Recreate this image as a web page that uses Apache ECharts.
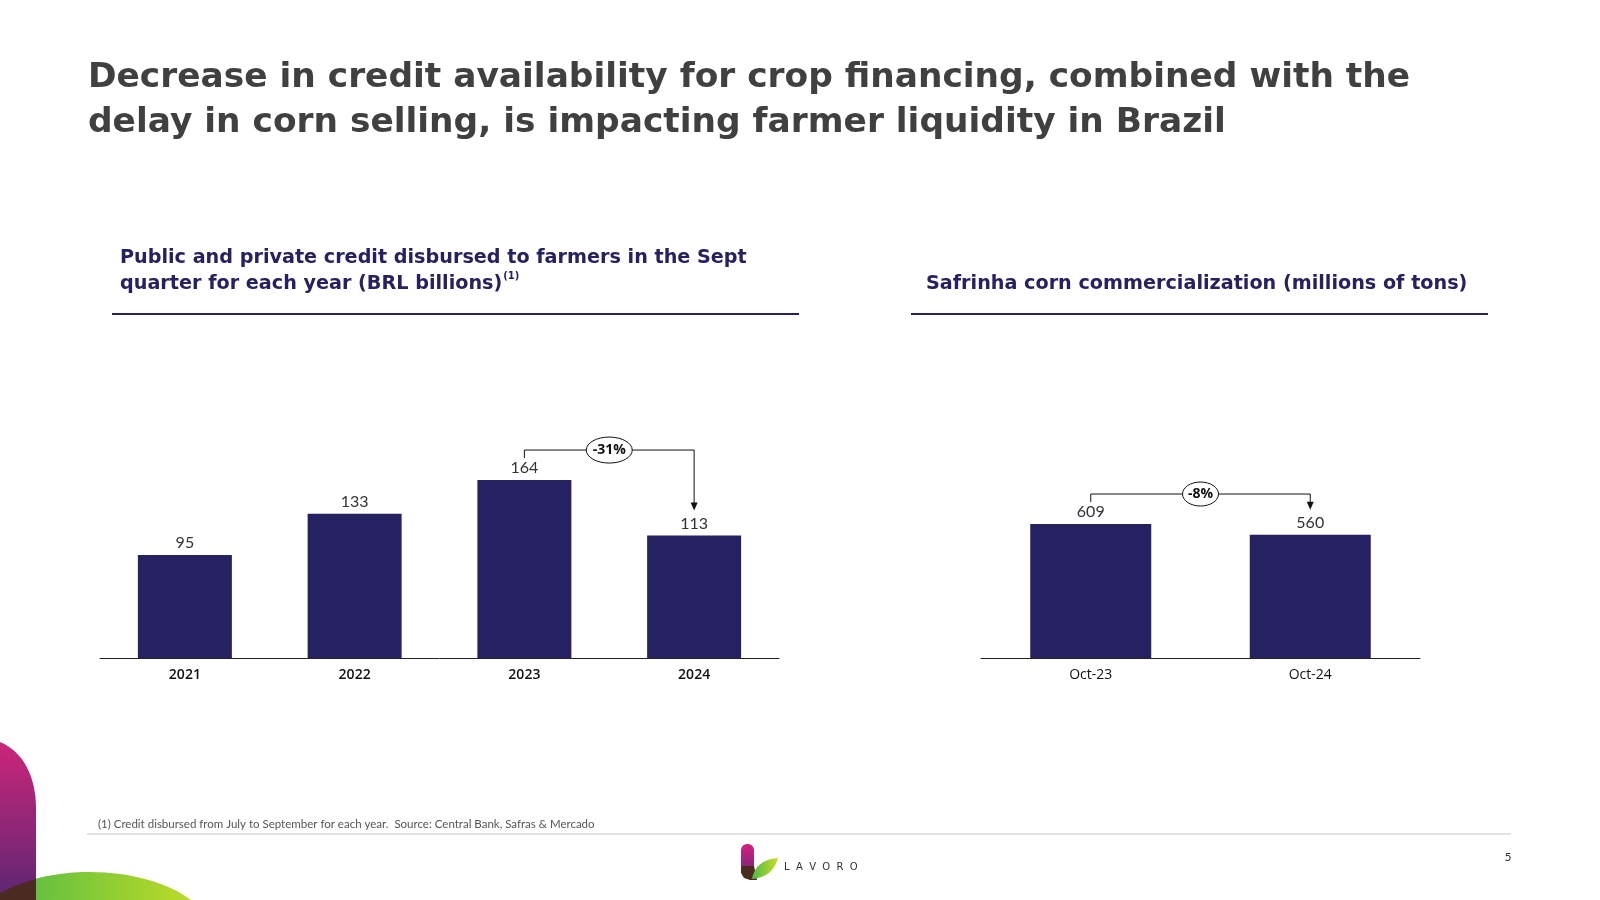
<!DOCTYPE html>
<html>
<head>
<meta charset="utf-8">
<title>Lavoro - credit and corn</title>
<script src="https://cdn.jsdelivr.net/npm/echarts@6/dist/echarts.min.js"></script>
<style>
  html, body { margin: 0; padding: 0; background: #fff; }
  #main { width: 1600px; height: 900px; }
</style>
</head>
<body>
<div id="main"></div>
<script>
// 左图：季度信贷（十亿雷亚尔）
const creditYears = ['2021', '2022', '2023', '2024']
const creditValues = [95, 133, 164, 113]
// 右图：玉米销售（百万吨）
const cornMonths = ['Oct-23', 'Oct-24']
const cornValues = [609, 560]

const navy = '#262160'
const valueFont = 'Lato, "Open Sans", sans-serif'
const headFont = '"DejaVu Sans", sans-serif'

const chartInstance = echarts.init(document.getElementById('main'), null, { renderer: 'canvas' })

const initOption = {
  backgroundColor: '#fff',
  animation: false,
  title: [
    {
      text: 'Decrease in credit availability for crop financing, combined with the\ndelay in corn selling, is impacting farmer liquidity in Brazil',
      left: 88,
      top: 56,
      padding: 0,
      textStyle: { fontFamily: headFont, fontSize: 34.4, fontWeight: 'bold', color: '#404040', lineHeight: 45 }
    },
    {
      text: 'Public and private credit disbursed to farmers in the Sept\nquarter for each year (BRL billions){sup|(1)}',
      left: 120,
      top: 245,
      padding: 0,
      textStyle: {
        fontFamily: headFont, fontSize: 19.2, fontWeight: 'bold', color: navy, lineHeight: 26,
        rich: {
          sup: { fontFamily: headFont, fontSize: 10, fontWeight: 'bold', color: navy, verticalAlign: 'top', padding: [0, 0, 8, 1] }
        }
      }
    },
    {
      text: 'Safrinha corn commercialization (millions of tons)',
      left: 926,
      top: 271,
      padding: 0,
      textStyle: { fontFamily: headFont, fontSize: 19.2, fontWeight: 'bold', color: navy, lineHeight: 26 }
    }
  ],
  grid: [
    { left: 100, right: 821, top: 441, bottom: 242 },
    { left: 981, right: 180, top: 482, bottom: 242 }
  ],
  xAxis: [
    {
      gridIndex: 0,
      type: 'category',
      data: creditYears,
      axisLine: { lineStyle: { color: '#222', width: 1 } },
      axisTick: { show: false },
      axisLabel: { margin: 10, fontFamily: '"Open Sans", sans-serif', fontSize: 14, fontWeight: 600, color: '#111' }
    },
    {
      gridIndex: 1,
      type: 'category',
      data: cornMonths,
      axisLine: { lineStyle: { color: '#222', width: 1 } },
      axisTick: { show: false },
      axisLabel: { margin: 10, fontFamily: '"Open Sans", sans-serif', fontSize: 14, color: '#111' }
    }
  ],
  yAxis: [
    { gridIndex: 0, type: 'value', min: 0, max: 200, show: false },
    { gridIndex: 1, type: 'value', min: 0, max: 800, show: false }
  ],
  series: [
    {
      type: 'bar',
      xAxisIndex: 0,
      yAxisIndex: 0,
      data: creditValues,
      barWidth: 94,
      itemStyle: { color: navy },
      label: { show: true, position: 'top', distance: 4, fontFamily: valueFont, fontSize: 16, color: '#333' }
    },
    {
      type: 'bar',
      xAxisIndex: 1,
      yAxisIndex: 1,
      data: cornValues,
      barWidth: 121,
      itemStyle: { color: navy },
      label: { show: true, position: 'top', distance: 4, fontFamily: valueFont, fontSize: 16, color: '#333' }
    }
  ]
}
chartInstance.setOption(initOption)

// 三次贝塞尔取点，用于装饰图形的曲边
function bez (p0, p1, p2, p3, n) {
  const pts = []
  for (let i = 0; i <= n; i++) {
    const t = i / n
    const u = 1 - t
    pts.push([
      u * u * u * p0[0] + 3 * u * u * t * p1[0] + 3 * u * t * t * p2[0] + t * t * t * p3[0],
      u * u * u * p0[1] + 3 * u * u * t * p1[1] + 3 * u * t * t * p2[1] + t * t * t * p3[1]
    ])
  }
  return pts
}

// 变化率括号箭头，位置由坐标轴换算
function changeBracket (gridIndex, cats, vals, from, to, rx, ry) {
  const p1 = chartInstance.convertToPixel({ gridIndex: gridIndex }, [cats[from], vals[from]])
  const p2 = chartInstance.convertToPixel({ gridIndex: gridIndex }, [cats[to], vals[to]])
  const yLine = p1[1] - 30
  const tipY = p2[1] - 25
  const midX = (p1[0] + p2[0]) / 2
  const pct = Math.round((vals[to] / vals[from] - 1) * 100)
  return [
    {
      type: 'polyline',
      shape: { points: [[p1[0], p1[1] - 22], [p1[0], yLine], [p2[0], yLine], [p2[0], tipY - 7]] },
      style: { stroke: '#111', lineWidth: 1, fill: null }
    },
    {
      type: 'polygon',
      shape: { points: [[p2[0] - 3.5, tipY - 8], [p2[0] + 3.5, tipY - 8], [p2[0], tipY]] },
      style: { fill: '#111' }
    },
    {
      type: 'ellipse',
      shape: { cx: midX, cy: yLine, rx: rx, ry: ry },
      style: { fill: '#fff', stroke: '#111', lineWidth: 1 }
    },
    {
      type: 'text',
      x: midX,
      y: yLine,
      style: {
        text: pct + '%', align: 'center', verticalAlign: 'middle',
        font: 'bold 14px "Open Sans", sans-serif', fill: '#111'
      }
    }
  ]
}

const magentaEdge = [[0, 900], [0, 742]].concat(bez([0, 742], [24, 752], [36, 778], [36, 808], 16)).concat([[36, 900]])
const brownEdge = [[0, 900]].concat(bez([0, 893], [12, 887], [24, 882], [36, 879], 8)).concat([[36, 900]])
const leafEdge = bez([752, 879], [754, 866], [764, 859], [778, 858], 10).concat(bez([778, 858], [775, 870], [766, 878], [752, 879], 10))

const graphics = [
  // 标题下划线
  { type: 'line', shape: { x1: 112, y1: 314, x2: 799, y2: 314 }, style: { stroke: navy, lineWidth: 2 } },
  { type: 'line', shape: { x1: 911, y1: 314, x2: 1488, y2: 314 }, style: { stroke: navy, lineWidth: 2 } },
  // 脚注
  {
    type: 'text', x: 98, y: 824,
    style: {
      text: '(1) Credit disbursed from July to September for each year.  Source: Central Bank, Safras & Mercado',
      verticalAlign: 'middle', font: '11.5px Lato, sans-serif', fill: '#555'
    }
  },
  { type: 'line', shape: { x1: 87, y1: 834, x2: 1511, y2: 834 }, style: { stroke: '#c4c4c4', lineWidth: 1 } },
  { type: 'text', x: 1508, y: 857, style: { text: '5', align: 'center', verticalAlign: 'middle', font: '12px Lato, sans-serif', fill: '#333' } },
  // 左下角装饰
  {
    type: 'ellipse',
    shape: { cx: 90, cy: 940, rx: 125, ry: 68 },
    style: { fill: new echarts.graphic.LinearGradient(0, 0, 1, 0, [{ offset: 0, color: '#3fb54a' }, { offset: 1, color: '#c9df24' }]) }
  },
  {
    type: 'polygon',
    shape: { points: magentaEdge },
    style: { fill: new echarts.graphic.LinearGradient(0, 0, 0, 1, [{ offset: 0, color: '#cc2679' }, { offset: 1, color: '#5c2673' }]) }
  },
  {
    type: 'polygon',
    shape: { points: brownEdge },
    style: { fill: '#4b2a1f' }
  },
  // LAVORO 标志
  {
    type: 'rect',
    shape: { x: 741, y: 844, width: 13, height: 32, r: [6, 6, 0, 6] },
    style: { fill: new echarts.graphic.LinearGradient(0, 0, 0, 1, [{ offset: 0, color: '#d3207e' }, { offset: 1, color: '#6a2a7a' }]) }
  },
  {
    type: 'polygon',
    shape: { points: [[741, 866], [741, 873], [744, 878], [750, 880], [757, 880], [754, 866]] },
    style: { fill: '#4b2b20' }
  },
  {
    type: 'polygon',
    shape: { points: leafEdge },
    style: { fill: new echarts.graphic.LinearGradient(0, 0, 1, 0, [{ offset: 0, color: '#4fb848' }, { offset: 1, color: '#c8df28' }]) }
  },
  {
    type: 'text', x: 784, y: 867,
    style: { text: 'L  A  V  O  R  O', verticalAlign: 'middle', font: '10px "DejaVu Sans", sans-serif', fill: '#333' }
  }
]
  .concat(changeBracket(0, creditYears, creditValues, 2, 3, 23, 13))
  .concat(changeBracket(1, cornMonths, cornValues, 0, 1, 18, 12))

chartInstance.setOption({ graphic: graphics })
</script>
</body>
</html>
